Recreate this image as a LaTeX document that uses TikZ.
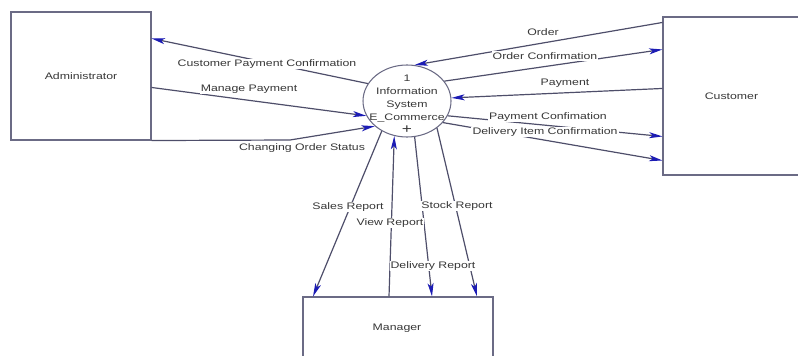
\documentclass[tikz,border=0pt]{standalone}
\usepackage{fontspec}
\setmainfont[FakeStretch=1.3]{Liberation Sans}
\usetikzlibrary{arrows.meta,calc,shapes.geometric}
\definecolor{linec}{HTML}{4E4E6A}
\definecolor{boxc}{HTML}{6B6B85}
\definecolor{tipc}{HTML}{1C1CB4}
\definecolor{txtc}{HTML}{383838}
\begin{document}
\begin{tikzpicture}[x=0.75pt,y=-0.75pt,
  every node/.style={font=\fontsize{7.1pt}{9.75pt}\selectfont, text=txtc},
  entity/.style={draw=boxc, line width=0.8pt, rectangle, inner sep=0pt},
  procshape/.style={draw=boxc, line width=0.8pt, ellipse, minimum width=66pt, minimum height=54pt, inner sep=0pt},
  flow/.style={draw=linec, line width=0.9pt, -{Stealth[length=10pt,width=4.5pt,inset=2.5pt,color=tipc]}},
  lbl/.style={fill=white, inner sep=0.8pt}]
\useasboundingbox (0,0) rectangle (798,356);
\clip (0,0) rectangle (798,356);

% entities
\node[entity, minimum width=105pt, minimum height=96pt] (admin) at (81,76) {Administrator};
\node[entity, minimum width=102.75pt, minimum height=118.5pt] (cust) at (731.5,96) {Customer};
\node[entity, minimum width=142.5pt, minimum height=54.75pt] (mgr) at (398,333.5) {};
\node (mgrtxt) at (397,328) {Manager};

% process
\node[procshape] (proc) at (407,101) {};
\node[align=center, inner sep=0pt] (proctxt) at (407,104) {1\\Information\\System\\E\_Commerce\\{\fontsize{10pt}{9.75pt}\selectfont +}};

% flows: administrator
\draw[flow] (proc.156) -- ($(admin.north east)+(0,27)$);
\draw[flow] ($(admin.north east)+(0,76)$) -- (proc.200);
\coordinate (bend) at (290,140);
\draw[flow] (admin.south east) -- (bend) -- (proc.218);

% flows: customer
\draw[flow] ($(cust.north west)+(0,6)$) -- (proc.78);
\draw[flow] (proc.28) -- ($(cust.north west)+(0,33)$);
\draw[flow] ($(cust.north west)+(0,72)$) -- (proc.4);
\draw[flow] (proc.340) -- ($(cust.north west)+(0,120)$);
\draw[flow] (proc.329) -- ($(cust.north west)+(0,144)$);

% flows: manager
\draw[flow] (proc.230) -- ($(mgr.north)+(-85,0)$);
\draw[flow] ($(mgr.north)+(-9,0)$) -- (proc.250);
\draw[flow] (proc.282) -- ($(mgr.north)+(34,0)$);
\draw[flow] (proc.318) -- ($(mgr.north)+(79,0)$);

% labels
\node[lbl] (l1) at (267,64) {Customer Payment Confirmation};
\node[lbl] (l2) at (249,89) {Manage Payment};
\node[lbl] (l3) at (302,148) {Changing Order Status};
\node[lbl] (l4) at (543,32) {Order};
\node[lbl] (l5) at (545,56) {Order Confirmation};
\node[lbl] (l6) at (565,83) {Payment};
\node[lbl] (l7) at (548,117) {Payment Confimation};
\node[lbl] (l8) at (545,132) {Delivery Item Confirmation};
\node[lbl] (l9) at (348,207) {Sales Report};
\node[lbl] (l10) at (390,223) {View Report};
\node[lbl] (l11) at (433,266) {Delivery Report};
\node[lbl] (l12) at (457,206) {Stock Report};
\end{tikzpicture}
\end{document}
